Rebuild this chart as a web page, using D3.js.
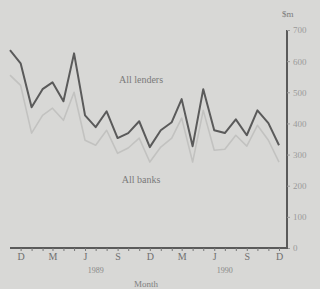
<!DOCTYPE html>
<html><head><meta charset="utf-8">
<script src="https://cdn.jsdelivr.net/npm/d3@7"></script>
<style>
html,body{margin:0;padding:0;background:#d8d8d6;}
svg{display:block;}
text{font-family:"Liberation Serif","DejaVu Serif",serif;}
</style></head>
<body>
<script>
// Monthly data, Nov 1988 – Dec 1990, $m
const months = d3.range(26).map(i => new Date(1988, 10 + i, 1));
const allLenders = [635,593,452,510,532,471,625,426,388,439,353,369,407,324,378,404,478,327,510,378,369,413,362,442,401,330];
const allBanks   = [555,522,369,426,449,410,500,346,330,378,304,321,353,276,324,353,417,276,442,314,317,362,327,394,346,276];
const yTicks = [0,100,200,300,400,500,600,700];
const monthLabels = ["J","F","M","A","M","J","J","A","S","O","N","D"];
const yearLabels = [{year:"1989", date:new Date(1989,6,1)},{year:"1990", date:new Date(1990,6,1)}];

const W = 320, H = 289;
const svg = d3.select("body").append("svg").attr("width", W).attr("height", H);

const x = d3.scaleTime().domain([months[0], months[months.length-1]]).range([10, 279]);
const y = d3.scaleLinear().domain([0, 700]).range([248, 30]);
const axisX = 287;

// lines
const line = d3.line().x((d,i) => x(months[i])).y(d => y(d));
svg.append("path").datum(allBanks).attr("d", line)
  .attr("fill","none").attr("stroke","#c2c2c0").attr("stroke-width",1.6).attr("stroke-linejoin","round");
svg.append("path").datum(allLenders).attr("d", line)
  .attr("fill","none").attr("stroke","#5a5a5a").attr("stroke-width",2).attr("stroke-linejoin","round");

// right y axis
const yAxis = d3.axisRight(y).tickValues(yTicks).tickSize(3).tickPadding(3);
const gy = svg.append("g").attr("transform", `translate(${axisX},0)`).call(yAxis);
gy.select(".domain").attr("stroke","#5a5a5a").attr("stroke-width",2).attr("d", `M0,${y(700)}V${y(0)}`);
gy.selectAll(".tick line").attr("stroke","#999");
gy.selectAll(".tick text").attr("fill","#9a9a9a").attr("font-size",9).attr("font-family","Liberation Serif, serif");

svg.append("text").attr("x", 282).attr("y", 17).attr("fill","#7a7a7a").attr("font-size",9).text("$m");

// bottom axis
const xMonths = d3.timeMonth.range(new Date(1988,11,1), new Date(1991,0,1));
svg.append("line").attr("x1",10).attr("x2",axisX+1).attr("y1",y(0)).attr("y2",y(0))
  .attr("stroke","#5a5a5a").attr("stroke-width",2);
const xAxis = d3.axisBottom(x).tickValues(xMonths).tickSize(3)
  .tickFormat(d => (d.getMonth() % 3 === 2) ? monthLabels[d.getMonth()] : "");
const gx = svg.append("g").attr("transform", `translate(0,${y(0)})`).call(xAxis);
gx.select(".domain").remove();
gx.selectAll(".tick line").attr("stroke","#777");
gx.selectAll(".tick text").attr("fill","#707070").attr("font-size",10).attr("dy","0.55em");

svg.selectAll(".yr").data(yearLabels).enter().append("text")
  .attr("x", d => x(d.date)).attr("y", 273).attr("text-anchor","middle")
  .attr("fill","#888").attr("font-size",8).text(d => d.year);

svg.append("text").attr("x",146).attr("y",287).attr("text-anchor","middle")
  .attr("fill","#808080").attr("font-size",9).text("Month");

svg.append("text").attr("x",141).attr("y",83).attr("text-anchor","middle")
  .attr("fill","#7a7a7a").attr("font-size",10).text("All lenders");
svg.append("text").attr("x",141).attr("y",183).attr("text-anchor","middle")
  .attr("fill","#7a7a7a").attr("font-size",10).text("All banks");
</script>
</body></html>
